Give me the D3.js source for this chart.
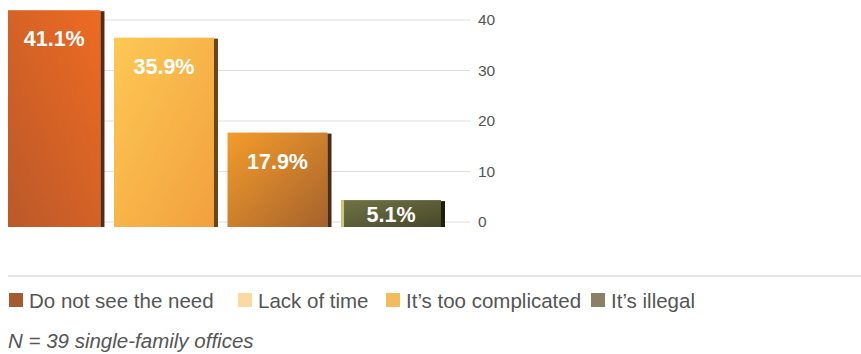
<!DOCTYPE html>
<html>
<head>
<meta charset="utf-8">
<script src="https://cdn.jsdelivr.net/npm/d3@7"></script>
<style>
  body { margin: 0; background: #fff; }
  svg { display: block; font-family: "Liberation Sans", Arial, sans-serif; }
</style>
</head>
<body>
<svg id="chart" width="861" height="354"></svg>
<script>
// data
const categories = ["Do not see the need", "Lack of time", "It\u2019s too complicated", "It\u2019s illegal"];
const values = [41.1, 35.9, 17.9, 5.1];
const ticks = [0, 10, 20, 30, 40];
const legendColors = ["#a65a31", "#fdd9a2", "#f4bb5c", "#8b7f67"];
// bar gradients: [light, dark, right edge]
const barStart = ["#ee6b22", "#fdc854", "#f49c2b", "#717445"];
const barEnd = ["#b8582a", "#f2a03e", "#a5622c", "#47472a"];
const barEdge = ["#5a2a10", "#6a4518", "#4a2a10", "#1e1e10"];

const svg = d3.select("#chart");

const x = d3.scaleBand().domain(categories).range([0.5, 445]).paddingInner(0.084);
// axis scale (flat grid)
const y = d3.scaleLinear().domain([0, 40]).range([222, 20]);
// bar scale (bars sit slightly in front of the grid)
const yBar = d3.scaleLinear().domain([0, 40]).range([227, 16]);

// the plot is cut on the left
const defs = svg.append("defs");
defs.append("clipPath").attr("id", "plot")
  .append("rect").attr("x", 8).attr("y", 0).attr("width", 853).attr("height", 260);

// grid
svg.append("g").selectAll("line").data(ticks).join("line")
  .attr("x1", 8).attr("x2", 470)
  .attr("y1", d => y(d)).attr("y2", d => y(d))
  .attr("stroke", "#dedede").attr("stroke-width", 1);

svg.append("g").selectAll("text").data(ticks).join("text")
  .attr("x", 478).attr("y", d => y(d) + 5)
  .attr("font-size", 15.5).attr("fill", "#555")
  .text(d => d);

// gradients
categories.forEach((c, i) => {
  const g = defs.append("linearGradient").attr("id", "g" + i)
    .attr("x1", i == 0 ? "100%" : "0%").attr("y1", "0%")
    .attr("x2", i == 0 ? "0%" : "100%").attr("y2", "100%");
  g.append("stop").attr("offset", "0%").attr("stop-color", barStart[i]);
  g.append("stop").attr("offset", "100%").attr("stop-color", barEnd[i]);
});

const bars = svg.append("g").attr("clip-path", "url(#plot)")
  .selectAll("g").data(values).join("g");

bars.append("rect")
  .attr("x", (d, i) => x(categories[i]))
  .attr("y", d => yBar(d))
  .attr("width", x.bandwidth() - 4)
  .attr("height", d => yBar(0) - yBar(d))
  .attr("fill", (d, i) => "url(#g" + i + ")");

bars.append("rect")
  .attr("x", (d, i) => x(categories[i]) + x.bandwidth() - 4)
  .attr("y", d => yBar(d) + 1)
  .attr("width", 4)
  .attr("height", d => yBar(0) - yBar(d) - 1)
  .attr("fill", (d, i) => barEdge[i]);

// light left edge on the last bar
bars.filter((d, i) => i == 3).append("rect")
  .attr("x", x(categories[3]))
  .attr("y", d => yBar(d))
  .attr("width", 3)
  .attr("height", d => yBar(0) - yBar(d))
  .attr("fill", "#c9c77a");

bars.append("text")
  .attr("x", (d, i) => (Math.max(8, x(categories[i])) + x(categories[i]) + x.bandwidth() - 4) / 2)
  .attr("y", d => Math.min(yBar(d) + 36, (yBar(d) + yBar(0)) / 2 + 8))
  .attr("text-anchor", "middle")
  .attr("font-size", 21.5).attr("font-weight", "bold").attr("fill", "#fff")
  .text(d => d.toFixed(1) + "%");

// separator
svg.append("line").attr("x1", 8).attr("x2", 861).attr("y1", 276).attr("y2", 276)
  .attr("stroke", "#e6e6e6").attr("stroke-width", 2);

// legend
const legendX = [9, 238, 386, 591];
const lg = svg.append("g").selectAll("g").data(categories).join("g")
  .attr("transform", (d, i) => `translate(${legendX[i]},293)`);
lg.append("rect").attr("width", 14).attr("height", 14).attr("fill", (d, i) => legendColors[i]);
lg.append("text").attr("x", 20).attr("y", 15)
  .attr("font-size", 20.5).attr("fill", "#555").text(d => d);

svg.append("text").attr("x", 8).attr("y", 348)
  .attr("font-size", 20.5).attr("font-style", "italic").attr("fill", "#555")
  .text("N = 39 single-family offices");
</script>
</body>
</html>
